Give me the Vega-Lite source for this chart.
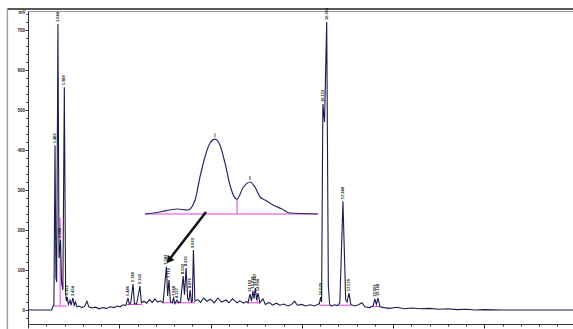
{
  "$schema": "https://vega.github.io/schema/vega-lite/v6.json",
  "width": 545,
  "height": 313,
  "autosize": {"type": "none"},
  "padding": {"left": 28, "top": 11, "right": 0, "bottom": 5},
  "background": "white",
  "config": {"view": {"stroke": "#9a9a9a", "strokeWidth": 1}, "font": "Liberation Sans"},
  "datasets": {
    "trace": [
      {"t":0,"mV":0},{"t":1.30,"mV":0},{"t":1.36,"mV":8},{"t":1.42,"mV":14},{"t":1.48,"mV":412},{"t":1.53,"mV":80},{"t":1.57,"mV":70},{"t":1.64,"mV":715},{"t":1.70,"mV":130},{"t":1.78,"mV":175},{"t":1.84,"mV":70},{"t":1.91,"mV":50},{"t":1.99,"mV":557},{"t":2.06,"mV":45},{"t":2.10,"mV":22},{"t":2.15,"mV":32},{"t":2.21,"mV":14},{"t":2.30,"mV":24},{"t":2.36,"mV":12},{"t":2.46,"mV":30},{"t":2.53,"mV":12},{"t":2.60,"mV":20},{"t":2.68,"mV":8},{"t":2.80,"mV":10},{"t":2.95,"mV":6},{"t":3.10,"mV":9},{"t":3.23,"mV":22},{"t":3.33,"mV":8},{"t":3.50,"mV":5},{"t":3.70,"mV":7},{"t":3.90,"mV":3},{"t":4.10,"mV":6},{"t":4.30,"mV":4},{"t":4.50,"mV":8},{"t":4.70,"mV":6},{"t":4.90,"mV":10},{"t":5.05,"mV":8},{"t":5.20,"mV":13},{"t":5.35,"mV":11},{"t":5.48,"mV":30},{"t":5.55,"mV":14},{"t":5.63,"mV":18},{"t":5.75,"mV":65},{"t":5.83,"mV":16},{"t":5.95,"mV":15},{"t":6.13,"mV":60},{"t":6.21,"mV":18},{"t":6.35,"mV":22},{"t":6.50,"mV":17},{"t":6.65,"mV":26},{"t":6.80,"mV":19},{"t":6.95,"mV":28},{"t":7.10,"mV":20},{"t":7.25,"mV":23},{"t":7.40,"mV":18},{"t":7.58,"mV":108},{"t":7.65,"mV":35},{"t":7.72,"mV":75},{"t":7.80,"mV":20},{"t":7.90,"mV":18},{"t":7.97,"mV":30},{"t":8.05,"mV":16},{"t":8.16,"mV":25},{"t":8.25,"mV":18},{"t":8.35,"mV":20},{"t":8.50,"mV":85},{"t":8.57,"mV":38},{"t":8.66,"mV":105},{"t":8.74,"mV":30},{"t":8.81,"mV":22},{"t":8.88,"mV":50},{"t":8.95,"mV":20},{"t":9.00,"mV":22},{"t":9.06,"mV":150},{"t":9.14,"mV":22},{"t":9.30,"mV":26},{"t":9.45,"mV":19},{"t":9.62,"mV":30},{"t":9.80,"mV":22},{"t":10.00,"mV":27},{"t":10.20,"mV":18},{"t":10.40,"mV":30},{"t":10.60,"mV":20},{"t":10.85,"mV":25},{"t":11.00,"mV":18},{"t":11.20,"mV":28},{"t":11.45,"mV":18},{"t":11.60,"mV":23},{"t":11.80,"mV":17},{"t":11.95,"mV":21},{"t":12.05,"mV":18},{"t":12.16,"mV":40},{"t":12.24,"mV":22},{"t":12.32,"mV":48},{"t":12.38,"mV":28},{"t":12.45,"mV":55},{"t":12.52,"mV":25},{"t":12.60,"mV":42},{"t":12.70,"mV":18},{"t":12.87,"mV":28},{"t":13.00,"mV":14},{"t":13.20,"mV":19},{"t":13.40,"mV":12},{"t":13.60,"mV":17},{"t":13.80,"mV":12},{"t":14.00,"mV":15},{"t":14.25,"mV":10},{"t":14.45,"mV":14},{"t":14.60,"mV":22},{"t":14.75,"mV":12},{"t":15.00,"mV":14},{"t":15.20,"mV":10},{"t":15.45,"mV":13},{"t":15.70,"mV":10},{"t":15.85,"mV":14},{"t":15.96,"mV":16},{"t":16.03,"mV":32},{"t":16.08,"mV":20},{"t":16.15,"mV":515},{"t":16.24,"mV":470},{"t":16.36,"mV":720},{"t":16.45,"mV":60},{"t":16.52,"mV":15},{"t":16.62,"mV":10},{"t":16.80,"mV":13},{"t":16.95,"mV":11},{"t":17.08,"mV":18},{"t":17.25,"mV":272},{"t":17.40,"mV":25},{"t":17.48,"mV":20},{"t":17.58,"mV":42},{"t":17.68,"mV":14},{"t":17.90,"mV":10},{"t":18.10,"mV":13},{"t":18.29,"mV":18},{"t":18.45,"mV":8},{"t":18.70,"mV":6},{"t":18.90,"mV":10},{"t":19.00,"mV":28},{"t":19.08,"mV":14},{"t":19.17,"mV":30},{"t":19.28,"mV":8},{"t":19.50,"mV":6},{"t":19.80,"mV":4},{"t":20.20,"mV":7},{"t":20.60,"mV":3},{"t":21.00,"mV":5},{"t":21.50,"mV":3},{"t":22.00,"mV":4},{"t":22.50,"mV":2},{"t":23.00,"mV":3},{"t":23.50,"mV":1},{"t":24.00,"mV":2},{"t":24.50,"mV":0},{"t":25.00,"mV":1},{"t":26.00,"mV":0},{"t":29.85,"mV":0}
    ],
    "inset": [
      {"t":6.41,"mV":240},{"t":7.23,"mV":245},{"t":8.16,"mV":252.5},{"t":8.76,"mV":250},{"t":9.15,"mV":275},{"t":9.42,"mV":332.5},{"t":9.69,"mV":382.5},{"t":9.97,"mV":417.5},{"t":10.24,"mV":427},{"t":10.51,"mV":412.5},{"t":10.79,"mV":367.5},{"t":11.06,"mV":312.5},{"t":11.34,"mV":280},{"t":11.45,"mV":277},{"t":11.77,"mV":305},{"t":12.16,"mV":320},{"t":12.43,"mV":307.5},{"t":12.71,"mV":282.5},{"t":12.98,"mV":275},{"t":13.42,"mV":262.5},{"t":13.91,"mV":252.5},{"t":14.35,"mV":242.5},{"t":15.88,"mV":240}
    ],
    "insetPeaks": [{"t":10.24,"mV":427},{"t":12.16,"mV":320}],
    "baselines": [
      {"t":1.40,"t2":2.12,"mV":10,"mV2":10},
      {"t":1.76,"t2":1.76,"mV":12,"mV2":230},
      {"t":5.40,"t2":6.25,"mV":14,"mV2":14},
      {"t":7.45,"t2":9.15,"mV":18,"mV2":18},
      {"t":12.05,"t2":12.72,"mV":18,"mV2":18},
      {"t":12.55,"t2":12.55,"mV":18,"mV2":40},
      {"t":15.92,"t2":16.55,"mV":12,"mV2":12},
      {"t":17.00,"t2":17.70,"mV":12,"mV2":12},
      {"t":18.92,"t2":19.32,"mV":9,"mV2":9},
      {"t":6.41,"t2":15.88,"mV":240,"mV2":240},
      {"t":11.45,"t2":11.45,"mV":240,"mV2":277}
    ],
    "arrow": [{"t":9.75,"mV":245},{"t":7.80,"mV":130}],
    "arrowhead": [{"t":7.72,"mV":124}],
    "frameTop": [{"t":-1.13,"t2":29.85,"mV":752.5}],
    "frameLeft": [{"t":-1.13,"mV":752.5,"mV2":-47.5}],
    "peaks": [
      {"t":1.48,"mV":412,"label":"1.482"},
      {"t":1.64,"mV":715,"label":"1.644"},
      {"t":1.78,"mV":175,"label":"1.788"},
      {"t":1.99,"mV":557,"label":"1.989"},
      {"t":2.15,"mV":32,"label":"2.152"},
      {"t":2.46,"mV":30,"label":"2.454"},
      {"t":5.48,"mV":30,"label":"5.486"},
      {"t":5.75,"mV":65,"label":"5.749"},
      {"t":6.13,"mV":60,"label":"6.132"},
      {"t":7.58,"mV":108,"label":"7.583"},
      {"t":7.72,"mV":75,"label":"7.719"},
      {"t":7.97,"mV":30,"label":"7.968"},
      {"t":8.16,"mV":25,"label":"8.157"},
      {"t":8.50,"mV":85,"label":"8.502"},
      {"t":8.66,"mV":105,"label":"8.661"},
      {"t":8.88,"mV":50,"label":"8.876"},
      {"t":9.06,"mV":150,"label":"9.063"},
      {"t":12.16,"mV":40,"label":"12.162"},
      {"t":12.32,"mV":48,"label":"12.318"},
      {"t":12.45,"mV":55,"label":"12.447"},
      {"t":12.60,"mV":42,"label":"12.604"},
      {"t":16.03,"mV":32,"label":"16.029"},
      {"t":16.15,"mV":515,"label":"16.152"},
      {"t":16.36,"mV":720,"label":"16.362"},
      {"t":17.25,"mV":272,"label":"17.248"},
      {"t":17.58,"mV":42,"label":"17.579"},
      {"t":19.00,"mV":28,"label":"19.003"},
      {"t":19.17,"mV":30,"label":"19.168"}
    ]
  },
  "encoding": {
    "x": {
      "field": "t", "type": "quantitative",
      "scale": {"domain": [0, 29.85], "nice": false, "zero": false},
      "axis": {
        "values": [0,1,2,3,4,5,6,7,8,9,10,11,12,13,14,15,16,17,18,19,20,21,22,23,24,25,26,27,28,29],
        "labelExpr": "datum.value % 5 === 0 ? datum.label : ''",
        "tickSize": {"condition": {"test": "datum.value % 5 === 0", "value": 4}, "value": 2},
        "grid": false, "title": null, "domainColor": "#333", "tickColor": "#333",
        "labelFontSize": 5, "labelPadding": 0, "labelColor": "#222", "labelFontWeight": "bold",
        "labelFlush": false, "labelOverlap": false
      }
    },
    "y": {
      "field": "mV", "type": "quantitative",
      "scale": {"domain": [-35, 747.5], "nice": false, "zero": false},
      "axis": {
        "values": [-20,0,20,40,60,80,100,120,140,160,180,200,220,240,260,280,300,320,340,360,380,400,420,440,460,480,500,520,540,560,580,600,620,640,660,680,700,720,740],
        "labelExpr": "datum.value % 100 === 0 ? datum.label : ''",
        "tickSize": {"condition": {"test": "datum.value % 100 === 0", "value": 3}, "value": 2},
        "grid": false, "title": "mV", "titleAngle": 0, "titleX": -3, "titleY": 1,
        "titleAlign": "right", "titleBaseline": "middle", "titleFontSize": 4.5, "titleFontWeight": "bold", "titleColor": "#222",
        "domainColor": "#333", "tickColor": "#333",
        "labelFontSize": 4.5, "labelPadding": 0.5, "labelColor": "#222", "labelFontWeight": "bold",
        "labelFlush": false, "labelOverlap": false
      }
    }
  },
  "layer": [
    {"data": {"name": "frameTop"}, "mark": {"type": "rule", "color": "#222", "strokeWidth": 1.6}, "encoding": {"x2": {"field": "t2"}}},
    {"data": {"name": "frameLeft"}, "mark": {"type": "rule", "color": "#a0a0a0", "strokeWidth": 1.5}, "encoding": {"y2": {"field": "mV2"}}},
    {"data": {"name": "baselines"}, "mark": {"type": "rule", "color": "#e03ce0", "strokeWidth": 1}, "encoding": {"x2": {"field": "t2"}, "y2": {"field": "mV2"}}},
    {"data": {"name": "trace"}, "mark": {"type": "line", "color": "#1c1c4c", "strokeWidth": 1.1, "interpolate": "linear"}},
    {"data": {"name": "inset"}, "mark": {"type": "line", "color": "#2a2a66", "strokeWidth": 1.2, "interpolate": "monotone"}},
    {"data": {"name": "insetPeaks"}, "mark": {"type": "tick", "orient": "vertical", "size": 4, "thickness": 1, "color": "#111", "yOffset": -4}},
    {"data": {"name": "arrow"}, "mark": {"type": "line", "color": "#111", "strokeWidth": 2.5}},
    {"data": {"name": "arrowhead"}, "mark": {"type": "point", "shape": "triangle-up", "angle": 217, "size": 70, "filled": true, "color": "#111", "opacity": 1}},
    {"data": {"name": "peaks"}, "mark": {"type": "text", "angle": 270, "align": "left", "baseline": "middle", "dx": 2, "fontSize": 4, "fontWeight": "bold", "color": "#111"}, "encoding": {"text": {"field": "label"}}}
  ]
}
